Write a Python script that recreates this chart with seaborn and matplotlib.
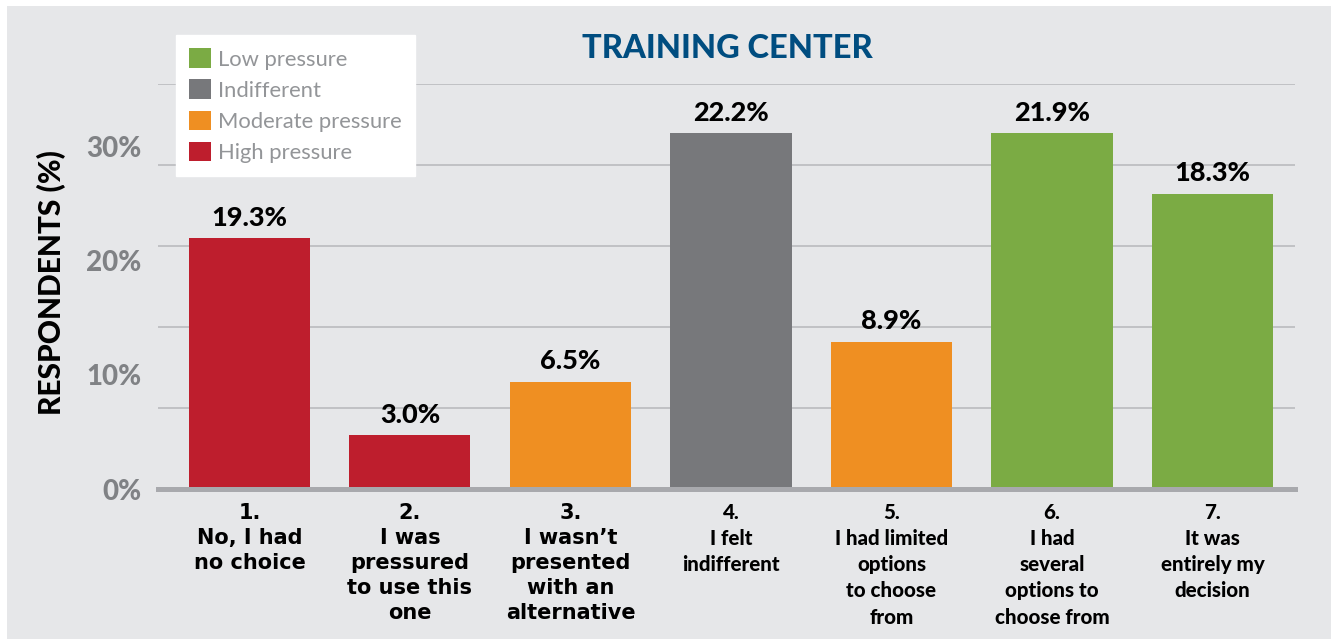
import matplotlib.pyplot as plt
import matplotlib.patches as mpatches
from matplotlib.ticker import FixedLocator
import seaborn as sns
import pandas as pd

# values (bar heights on the printed % axis)
categories = ["1.\nNo, I had\nno choice",
              "2.\nI was\npressured\nto use this\none",
              "3.\nI wasn\u2019t\npresented\nwith an\nalternative",
              "4.\nI felt\nindifferent",
              "5.\nI had limited\noptions\nto choose\nfrom",
              "6.\nI had\nseveral\noptions to\nchoose from",
              "7.\nIt was\nentirely my\ndecision"]
bar_heights = [22.0, 4.7, 9.4, 31.2, 12.9, 31.2, 25.9]
value_labels = ["19.3%", "3.0%", "6.5%", "22.2%", "8.9%", "21.9%", "18.3%"]
groups = ["High pressure", "High pressure", "Moderate pressure", "Indifferent",
          "Moderate pressure", "Low pressure", "Low pressure"]
label_fonts = ["DejaVu Sans", "DejaVu Sans", "DejaVu Sans", "Lato", "Lato", "Lato", "Lato"]

y_ticks = [0, 10, 20, 30]
y_tick_labels = ["0%", "10%", "20%", "30%"]
grid_levels = [7.1, 14.2, 21.3, 28.4, 35.5]

legend_order = ["Low pressure", "Indifferent", "Moderate pressure", "High pressure"]
palette = {"Low pressure": "#7bab44", "Indifferent": "#77787b",
           "Moderate pressure": "#ef8f22", "High pressure": "#be1e2d"}

df = pd.DataFrame({"category": categories, "value": bar_heights, "group": groups})

sns.set_style("white")
plt.rcParams["font.family"] = ["Lato", "DejaVu Sans"]

fig = plt.figure(figsize=(13.31, 6.39), dpi=100, facecolor="white")
bg = mpatches.Rectangle((7 / 1331, 0), 1, 1 - 6 / 639, transform=fig.transFigure,
                        facecolor="#e6e7e9", edgecolor="none", zorder=-10)
fig.patches.append(bg)

ax = fig.add_axes([158 / 1331, 1 - 489 / 639, (1295 - 158) / 1331, (489 - 84) / 639])
ax.set_facecolor("none")

sns.barplot(data=df, x="category", y="value", hue="group", palette=palette,
            dodge=False, width=0.754, saturation=1, legend=False, ax=ax,
            linewidth=0, edgecolor="none", zorder=3)

ax.set_xlim(-0.57, 6.514)
ax.set_ylim(0, 35.5)

# gridlines at their own levels, separate from the printed tick labels
ax.yaxis.set_minor_locator(FixedLocator(grid_levels))
ax.grid(which="minor", axis="y", color="#b7b8bb", linewidth=1.1, zorder=0)
ax.grid(which="major", visible=False)
ax.tick_params(axis="y", which="minor", length=0)

ax.set_yticks(y_ticks)
ax.set_yticklabels(y_tick_labels, fontsize=20, fontweight="black", color="#808285")
ax.tick_params(axis="y", which="major", length=0, pad=12)

ax.tick_params(axis="x", length=0, pad=10)
for lab, fam in zip(ax.get_xticklabels(), label_fonts):
    lab.set_fontfamily([fam, "DejaVu Sans"])
    if fam == "Lato":
        lab.set_fontsize(14.8)
        lab.set_linespacing(1.45)
    else:
        lab.set_fontsize(15)
        lab.set_linespacing(1.32)
    lab.set_fontweight("black")
    lab.set_color("black")

for s in ["top", "right", "left"]:
    ax.spines[s].set_visible(False)
ax.spines["bottom"].set_color("#a8a9ad")
ax.spines["bottom"].set_linewidth(3.6)
ax.spines["bottom"].set_zorder(4)

for i, (h, txt) in enumerate(zip(bar_heights, value_labels)):
    ax.annotate(txt, (i, h), xytext=(0, 6), textcoords="offset points",
                ha="center", va="bottom", fontsize=19.5, fontweight="black", color="black")

ax.set_xlabel("")
ax.set_ylabel("RESPONDENTS (%)", fontsize=21.5, fontweight="black", color="black")
ax.yaxis.set_label_coords(-0.081, 0.51)

fig.text(727 / 1331, 1 - 48 / 639, "TRAINING CENTER", ha="center", va="center",
         fontsize=23.5, fontweight="black", color="#004d80")

handles = [mpatches.Patch(facecolor=palette[g], edgecolor="none", label=g) for g in legend_order]
leg = fig.legend(handles=handles, loc="upper left",
                 bbox_to_anchor=(176 / 1331, 1 - 35 / 639), frameon=True, fancybox=False,
                 framealpha=1, edgecolor="white", facecolor="white", fontsize=15.8,
                 handlelength=1.0, handleheight=1.0, handletextpad=0.3,
                 labelspacing=0.45, borderpad=0.6, borderaxespad=0)
for t in leg.get_texts():
    t.set_color("#939598")

fig.savefig("out.png", dpi=100, facecolor="white")
